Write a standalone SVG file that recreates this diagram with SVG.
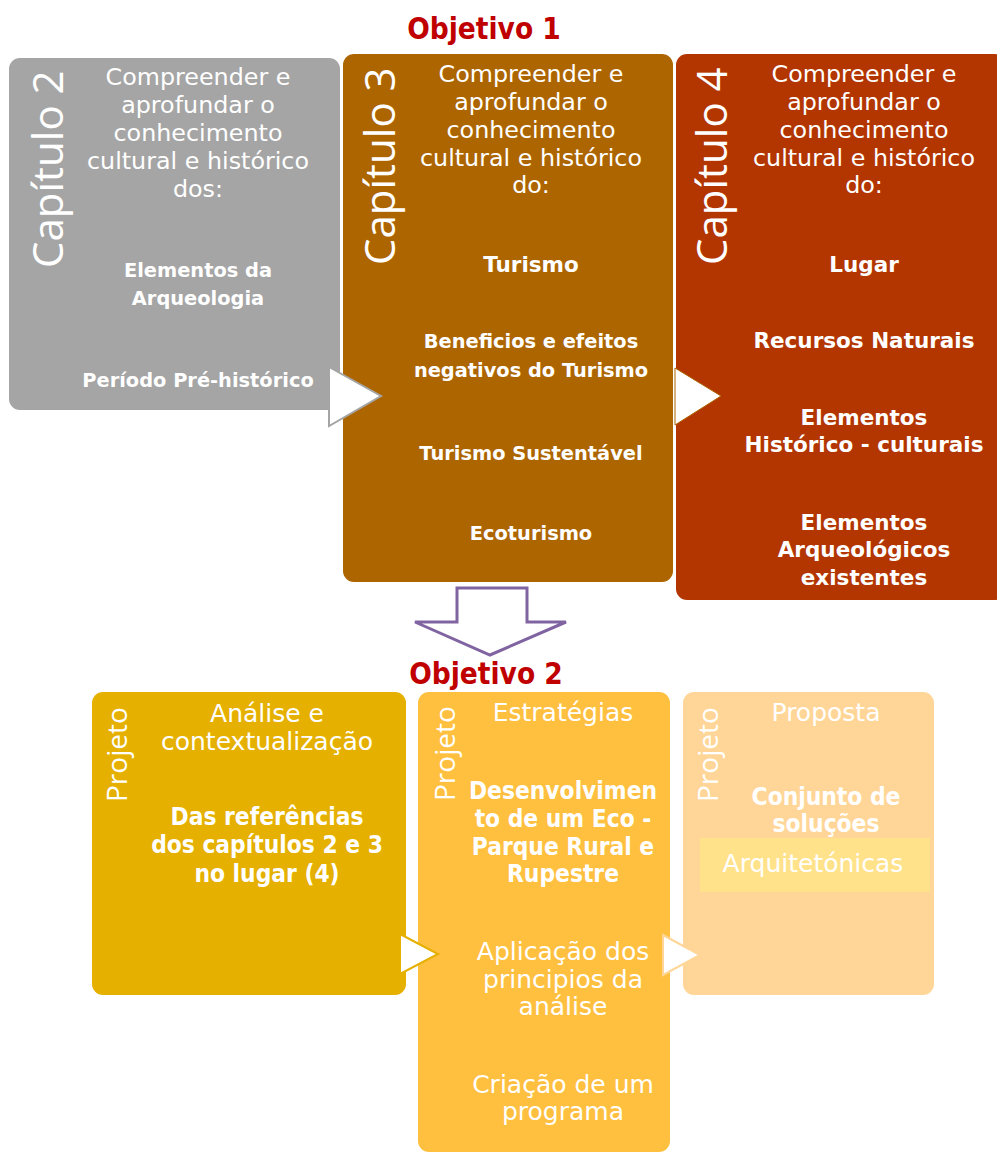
<svg xmlns="http://www.w3.org/2000/svg" width="997" height="1153" viewBox="0 0 997 1153">
<style>
.reg{font-family:"DejaVu Sans",Verdana,sans-serif;font-size:23.8px;fill:#fff;text-anchor:middle}
.b19{font-family:"DejaVu Sans",Verdana,sans-serif;font-weight:bold;font-size:19.4px;fill:#fff;text-anchor:middle}
.b21{font-family:"DejaVu Sans",Verdana,sans-serif;font-weight:bold;font-size:21.5px;fill:#fff;text-anchor:middle}
.cap{font-family:"Open Sans","DejaVu Sans",sans-serif;font-weight:400;font-size:42px;fill:#fff}
.proj{font-family:"Open Sans","DejaVu Sans",sans-serif;font-weight:400;font-size:28px;fill:#fff}
.obj{font-family:"DejaVu Sans Condensed","DejaVu Sans",sans-serif;font-weight:bold;font-size:29.5px;fill:#C00000;text-anchor:middle}
.cr{font-family:"DejaVu Sans",sans-serif;font-size:25px;fill:#fff;text-anchor:middle}
.cb{font-family:"DejaVu Sans Condensed","DejaVu Sans",sans-serif;font-weight:bold;font-size:24.3px;fill:#fff;text-anchor:middle}
</style>

<text class="obj" x="484" y="39">Objetivo 1</text>
<text class="obj" x="486" y="684">Objetivo 2</text>

<g id="cap2">
<rect x="9" y="58" width="331" height="352" rx="11" fill="#A5A5A5"/>
<text class="cap" transform="translate(63,268) rotate(-90)">Capítulo 2</text>
<text class="reg" x="198" y="85">Compreender e</text>
<text class="reg" x="198" y="113">aprofundar o</text>
<text class="reg" x="198" y="141">conhecimento</text>
<text class="reg" x="198" y="169">cultural e histórico</text>
<text class="reg" x="198" y="197">dos:</text>
<text class="b19" x="198" y="277">Elementos da</text>
<text class="b19" x="198" y="305">Arqueologia</text>
<text class="b19" x="198" y="387">Período Pré-histórico</text>
</g>

<g id="cap3">
<rect x="343" y="54" width="330" height="528" rx="11" fill="#AD6500"/>
<text class="cap" transform="translate(395,265) rotate(-90)">Capítulo 3</text>
<text class="reg" x="531" y="82">Compreender e</text>
<text class="reg" x="531" y="110">aprofundar o</text>
<text class="reg" x="531" y="138">conhecimento</text>
<text class="reg" x="531" y="166">cultural e histórico</text>
<text class="reg" x="531" y="193">do:</text>
<text class="b21" x="531" y="272">Turismo</text>
<text class="b19" x="531" y="348">Beneficios e efeitos</text>
<text class="b19" x="531" y="377">negativos do Turismo</text>
<text class="b19" x="531" y="460">Turismo Sustentável</text>
<text class="b19" x="531" y="540">Ecoturismo</text>
</g>

<g id="cap4">
<rect x="676" y="54" width="330" height="546" rx="11" fill="#B33500"/>
<text class="cap" transform="translate(727,265) rotate(-90)">Capítulo 4</text>
<text class="reg" x="864" y="82">Compreender e</text>
<text class="reg" x="864" y="110">aprofundar o</text>
<text class="reg" x="864" y="138">conhecimento</text>
<text class="reg" x="864" y="166">cultural e histórico</text>
<text class="reg" x="864" y="193">do:</text>
<text class="b21" x="864" y="272">Lugar</text>
<text class="b21" x="864" y="348">Recursos Naturais</text>
<text class="b21" x="864" y="425">Elementos</text>
<text class="b21" x="864" y="452">Histórico - culturais</text>
<text class="b21" x="864" y="530">Elementos</text>
<text class="b21" x="864" y="557">Arqueológicos</text>
<text class="b21" x="864" y="585">existentes</text>
</g>

<g id="projA">
<rect x="92" y="692" width="314" height="303" rx="11" fill="#E5B000"/>
<text class="proj" transform="translate(127,802) rotate(-90)">Projeto</text>
<text class="cr" x="267" y="722">Análise e</text>
<text class="cr" x="267" y="750">contextualização</text>
<text class="cb" x="267" y="825">Das referências</text>
<text class="cb" x="267" y="853">dos capítulos 2 e 3</text>
<text class="cb" x="267" y="882">no lugar (4)</text>
</g>

<g id="projB">
<rect x="418" y="692" width="252" height="460" rx="11" fill="#FFC03F"/>
<text class="proj" transform="translate(455,801) rotate(-90)">Projeto</text>
<text class="cr" x="563" y="721">Estratégias</text>
<text class="cb" x="563" y="799">Desenvolvimen</text>
<text class="cb" x="563" y="827">to de um Eco -</text>
<text class="cb" x="563" y="855">Parque Rural e</text>
<text class="cb" x="563" y="882">Rupestre</text>
<text class="cr" x="563" y="960">Aplicação dos</text>
<text class="cr" x="563" y="988">principios da</text>
<text class="cr" x="563" y="1015">análise</text>
<text class="cr" x="563" y="1093">Criação de um</text>
<text class="cr" x="563" y="1120">programa</text>
</g>

<g id="projC">
<rect x="683" y="692" width="251" height="303" rx="11" fill="#FFD697"/>
<rect x="700" y="838" width="230" height="54" fill="#FFE28A"/>
<text class="proj" transform="translate(718,802) rotate(-90)">Projeto</text>
<text class="cr" x="826" y="721">Proposta</text>
<text class="cb" x="826" y="805">Conjunto de</text>
<text class="cb" x="826" y="832">soluções</text>
<text class="cr" x="813" y="872">Arquitetónicas</text>
</g>

<g id="connectors">
<polygon points="329,367 381,396 329,426" fill="#fff" stroke="#A5A5A5" stroke-width="2"/>
<polygon points="675,368 721,396 675,425" fill="#fff" stroke="#AD6500" stroke-width="1"/>
<polygon points="457,588 527,588 527,622 566,622 490,655 415,622 457,622" fill="#fff" stroke="#8064A2" stroke-width="3" stroke-linejoin="miter"/>
<polygon points="400,934 438,954 400,974" fill="#fff" stroke="#E5B000" stroke-width="2"/>
<polygon points="663,935 700,955 663,975" fill="#fff" stroke="#FFD697" stroke-width="2"/>
</g>
</svg>
